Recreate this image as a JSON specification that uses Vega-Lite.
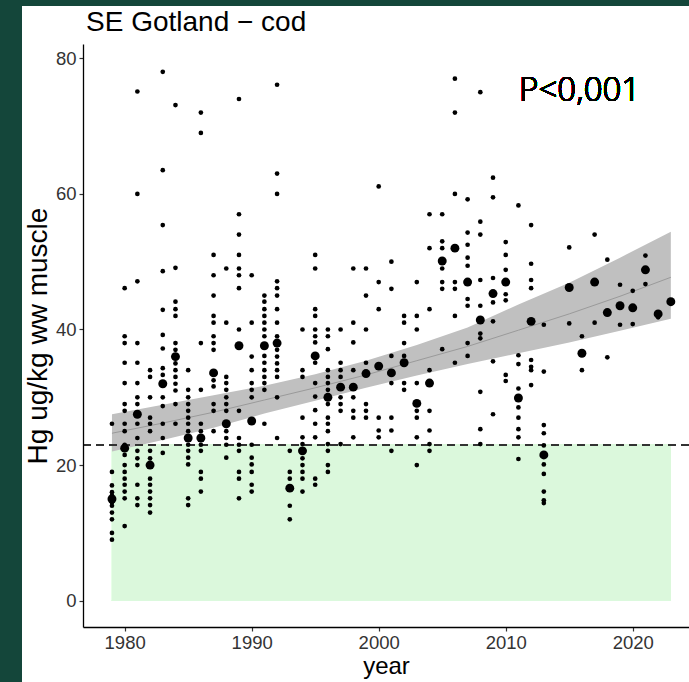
{
"$schema": "https://vega.github.io/schema/vega-lite/v6.json",
"width": 606, "height": 583,
"autosize": {"type": "none"},
"padding": {"left": 83, "top": 44, "right": 0, "bottom": 55},
"background": "#14463a",
"config": {"view": {"stroke": null}, "font": "Liberation Sans",
  "axis": {"grid": false, "domainColor": "black", "domainWidth": 1.3, "tickColor": "#333333", "tickWidth": 1.2, "tickSize": 4, "labelFontSize": 18.5, "labelColor": "#333333", "labelFont": "Liberation Sans", "titleFont": "Liberation Sans", "titleFontWeight": "normal", "titleColor": "black"}},
"title": {"text": "SE Gotland − cod", "anchor": "start", "frame": "group", "fontSize": 28, "font": "Liberation Sans", "fontWeight": "normal", "color": "black", "baseline": "alphabetic", "offset": 0, "dy": 53, "dx": 3, "zindex": 1},
"datasets": {
"fit": [
{"year":1979,"lo":22.0,"fit":24.7,"hi":27.5},
{"year":1983,"lo":23.7,"fit":26.2,"hi":28.9},
{"year":1987,"lo":25.5,"fit":27.8,"hi":30.3},
{"year":1991,"lo":27.6,"fit":29.6,"hi":31.7},
{"year":1995,"lo":29.5,"fit":31.4,"hi":33.4},
{"year":1999,"lo":31.4,"fit":33.3,"hi":35.4},
{"year":2003,"lo":33.2,"fit":35.4,"hi":37.7},
{"year":2007,"lo":34.9,"fit":37.5,"hi":40.3},
{"year":2011,"lo":36.5,"fit":39.9,"hi":43.7},
{"year":2015,"lo":38.1,"fit":42.3,"hi":46.9},
{"year":2019,"lo":39.8,"fit":44.9,"hi":50.6},
{"year":2023,"lo":41.6,"fit":47.7,"hi":54.4}
],
"pts": [
{"year":1979,"hg":26.1,"type":"ind"},{"year":1979,"hg":19,"type":"ind"},{"year":1979,"hg":17,"type":"ind"},{"year":1979,"hg":16,"type":"ind"},{"year":1979,"hg":15.5,"type":"ind"},{"year":1979,"hg":14.5,"type":"ind"},{"year":1979,"hg":14,"type":"ind"},{"year":1979,"hg":13,"type":"ind"},{"year":1979,"hg":12,"type":"ind"},{"year":1979,"hg":10,"type":"ind"},{"year":1979,"hg":9,"type":"ind"},
{"year":1980,"hg":46.1,"type":"ind"},{"year":1980,"hg":39,"type":"ind"},{"year":1980,"hg":38,"type":"ind"},{"year":1980,"hg":35.1,"type":"ind"},{"year":1980,"hg":32.1,"type":"ind"},{"year":1980,"hg":29,"type":"ind"},{"year":1980,"hg":28,"type":"ind"},{"year":1980,"hg":26.1,"type":"ind"},{"year":1980,"hg":25,"type":"ind"},{"year":1980,"hg":23,"type":"ind"},{"year":1980,"hg":21.5,"type":"ind"},{"year":1980,"hg":20,"type":"ind"},{"year":1980,"hg":19,"type":"ind"},{"year":1980,"hg":18,"type":"ind"},{"year":1980,"hg":17.1,"type":"ind"},{"year":1980,"hg":16.1,"type":"ind"},{"year":1980,"hg":15.1,"type":"ind"},{"year":1980,"hg":11,"type":"ind"},
{"year":1981,"hg":75.1,"type":"ind"},{"year":1981,"hg":60,"type":"ind"},{"year":1981,"hg":47.1,"type":"ind"},{"year":1981,"hg":38,"type":"ind"},{"year":1981,"hg":35.1,"type":"ind"},{"year":1981,"hg":32.1,"type":"ind"},{"year":1981,"hg":30,"type":"ind"},{"year":1981,"hg":29,"type":"ind"},{"year":1981,"hg":26.1,"type":"ind"},{"year":1981,"hg":24,"type":"ind"},{"year":1981,"hg":22.1,"type":"ind"},{"year":1981,"hg":21,"type":"ind"},{"year":1981,"hg":20,"type":"ind"},{"year":1981,"hg":17.1,"type":"ind"},{"year":1981,"hg":15.1,"type":"ind"},{"year":1981,"hg":14.1,"type":"ind"},
{"year":1982,"hg":34,"type":"ind"},{"year":1982,"hg":33,"type":"ind"},{"year":1982,"hg":30,"type":"ind"},{"year":1982,"hg":27,"type":"ind"},{"year":1982,"hg":26.1,"type":"ind"},{"year":1982,"hg":25,"type":"ind"},{"year":1982,"hg":22.1,"type":"ind"},{"year":1982,"hg":21,"type":"ind"},{"year":1982,"hg":18,"type":"ind"},{"year":1982,"hg":17.1,"type":"ind"},{"year":1982,"hg":16.1,"type":"ind"},{"year":1982,"hg":15.1,"type":"ind"},{"year":1982,"hg":14.1,"type":"ind"},{"year":1982,"hg":13,"type":"ind"},
{"year":1983,"hg":78,"type":"ind"},{"year":1983,"hg":63.5,"type":"ind"},{"year":1983,"hg":55.4,"type":"ind"},{"year":1983,"hg":48.6,"type":"ind"},{"year":1983,"hg":42.9,"type":"ind"},{"year":1983,"hg":39.2,"type":"ind"},{"year":1983,"hg":37.2,"type":"ind"},{"year":1983,"hg":34.3,"type":"ind"},{"year":1983,"hg":33.3,"type":"ind"},{"year":1983,"hg":30,"type":"ind"},{"year":1983,"hg":28.7,"type":"ind"},{"year":1983,"hg":26.1,"type":"ind"},{"year":1983,"hg":24,"type":"ind"},{"year":1983,"hg":21.8,"type":"ind"},
{"year":1984,"hg":73.1,"type":"ind"},{"year":1984,"hg":49.1,"type":"ind"},{"year":1984,"hg":44.1,"type":"ind"},{"year":1984,"hg":43,"type":"ind"},{"year":1984,"hg":42,"type":"ind"},{"year":1984,"hg":38,"type":"ind"},{"year":1984,"hg":37,"type":"ind"},{"year":1984,"hg":35,"type":"ind"},{"year":1984,"hg":34,"type":"ind"},{"year":1984,"hg":33,"type":"ind"},{"year":1984,"hg":32,"type":"ind"},{"year":1984,"hg":31,"type":"ind"},{"year":1984,"hg":29,"type":"ind"},{"year":1984,"hg":26.1,"type":"ind"},
{"year":1985,"hg":34,"type":"ind"},{"year":1985,"hg":31.1,"type":"ind"},{"year":1985,"hg":30,"type":"ind"},{"year":1985,"hg":29,"type":"ind"},{"year":1985,"hg":28,"type":"ind"},{"year":1985,"hg":27,"type":"ind"},{"year":1985,"hg":26.1,"type":"ind"},{"year":1985,"hg":25,"type":"ind"},{"year":1985,"hg":23,"type":"ind"},{"year":1985,"hg":22.1,"type":"ind"},{"year":1985,"hg":21.1,"type":"ind"},{"year":1985,"hg":20.1,"type":"ind"},{"year":1985,"hg":15.1,"type":"ind"},{"year":1985,"hg":14.1,"type":"ind"},
{"year":1986,"hg":72,"type":"ind"},{"year":1986,"hg":69,"type":"ind"},{"year":1986,"hg":38,"type":"ind"},{"year":1986,"hg":31.1,"type":"ind"},{"year":1986,"hg":26.1,"type":"ind"},{"year":1986,"hg":25,"type":"ind"},{"year":1986,"hg":23,"type":"ind"},{"year":1986,"hg":22.1,"type":"ind"},{"year":1986,"hg":19,"type":"ind"},{"year":1986,"hg":18,"type":"ind"},{"year":1986,"hg":16.1,"type":"ind"},
{"year":1987,"hg":51,"type":"ind"},{"year":1987,"hg":48,"type":"ind"},{"year":1987,"hg":45,"type":"ind"},{"year":1987,"hg":42,"type":"ind"},{"year":1987,"hg":41,"type":"ind"},{"year":1987,"hg":39,"type":"ind"},{"year":1987,"hg":38,"type":"ind"},{"year":1987,"hg":37,"type":"ind"},{"year":1987,"hg":32.5,"type":"ind"},{"year":1987,"hg":31.6,"type":"ind"},{"year":1987,"hg":29,"type":"ind"},{"year":1987,"hg":28,"type":"ind"},{"year":1987,"hg":25,"type":"ind"},
{"year":1988,"hg":49,"type":"ind"},{"year":1988,"hg":41,"type":"ind"},{"year":1988,"hg":33,"type":"ind"},{"year":1988,"hg":32.1,"type":"ind"},{"year":1988,"hg":31.1,"type":"ind"},{"year":1988,"hg":30,"type":"ind"},{"year":1988,"hg":29,"type":"ind"},{"year":1988,"hg":28,"type":"ind"},{"year":1988,"hg":25,"type":"ind"},{"year":1988,"hg":24,"type":"ind"},{"year":1988,"hg":23,"type":"ind"},{"year":1988,"hg":21.1,"type":"ind"},
{"year":1989,"hg":74,"type":"ind"},{"year":1989,"hg":57,"type":"ind"},{"year":1989,"hg":54,"type":"ind"},{"year":1989,"hg":51,"type":"ind"},{"year":1989,"hg":49,"type":"ind"},{"year":1989,"hg":48,"type":"ind"},{"year":1989,"hg":46.1,"type":"ind"},{"year":1989,"hg":40,"type":"ind"},{"year":1989,"hg":28,"type":"ind"},{"year":1989,"hg":24,"type":"ind"},{"year":1989,"hg":23,"type":"ind"},{"year":1989,"hg":22.1,"type":"ind"},{"year":1989,"hg":19,"type":"ind"},{"year":1989,"hg":18,"type":"ind"},{"year":1989,"hg":15.1,"type":"ind"},
{"year":1990,"hg":48,"type":"ind"},{"year":1990,"hg":41,"type":"ind"},{"year":1990,"hg":36,"type":"ind"},{"year":1990,"hg":34,"type":"ind"},{"year":1990,"hg":32.1,"type":"ind"},{"year":1990,"hg":31.1,"type":"ind"},{"year":1990,"hg":30,"type":"ind"},{"year":1990,"hg":23,"type":"ind"},{"year":1990,"hg":21.1,"type":"ind"},{"year":1990,"hg":20.1,"type":"ind"},{"year":1990,"hg":19,"type":"ind"},{"year":1990,"hg":17.1,"type":"ind"},{"year":1990,"hg":16.1,"type":"ind"},
{"year":1991,"hg":45,"type":"ind"},{"year":1991,"hg":44.1,"type":"ind"},{"year":1991,"hg":43,"type":"ind"},{"year":1991,"hg":42,"type":"ind"},{"year":1991,"hg":41,"type":"ind"},{"year":1991,"hg":40,"type":"ind"},{"year":1991,"hg":39,"type":"ind"},{"year":1991,"hg":36.1,"type":"ind"},{"year":1991,"hg":35.1,"type":"ind"},{"year":1991,"hg":34,"type":"ind"},{"year":1991,"hg":33,"type":"ind"},{"year":1991,"hg":32.1,"type":"ind"},{"year":1991,"hg":31.1,"type":"ind"},{"year":1991,"hg":26.1,"type":"ind"},
{"year":1992,"hg":76.1,"type":"ind"},{"year":1992,"hg":63,"type":"ind"},{"year":1992,"hg":60,"type":"ind"},{"year":1992,"hg":47.1,"type":"ind"},{"year":1992,"hg":46.1,"type":"ind"},{"year":1992,"hg":45,"type":"ind"},{"year":1992,"hg":43,"type":"ind"},{"year":1992,"hg":41,"type":"ind"},{"year":1992,"hg":39,"type":"ind"},{"year":1992,"hg":37,"type":"ind"},{"year":1992,"hg":36,"type":"ind"},{"year":1992,"hg":35,"type":"ind"},{"year":1992,"hg":34,"type":"ind"},{"year":1992,"hg":33,"type":"ind"},{"year":1992,"hg":30,"type":"ind"},{"year":1992,"hg":24,"type":"ind"},
{"year":1993,"hg":22.1,"type":"ind"},{"year":1993,"hg":19,"type":"ind"},{"year":1993,"hg":18,"type":"ind"},{"year":1993,"hg":14,"type":"ind"},{"year":1993,"hg":12,"type":"ind"},
{"year":1994,"hg":40,"type":"ind"},{"year":1994,"hg":34,"type":"ind"},{"year":1994,"hg":33,"type":"ind"},{"year":1994,"hg":27,"type":"ind"},{"year":1994,"hg":24.1,"type":"ind"},{"year":1994,"hg":23.1,"type":"ind"},{"year":1994,"hg":21,"type":"ind"},{"year":1994,"hg":20,"type":"ind"},{"year":1994,"hg":19,"type":"ind"},{"year":1994,"hg":18,"type":"ind"},{"year":1994,"hg":16.1,"type":"ind"},
{"year":1995,"hg":51,"type":"ind"},{"year":1995,"hg":49,"type":"ind"},{"year":1995,"hg":43,"type":"ind"},{"year":1995,"hg":42,"type":"ind"},{"year":1995,"hg":40,"type":"ind"},{"year":1995,"hg":39,"type":"ind"},{"year":1995,"hg":38.1,"type":"ind"},{"year":1995,"hg":35.1,"type":"ind"},{"year":1995,"hg":32.1,"type":"ind"},{"year":1995,"hg":30.1,"type":"ind"},{"year":1995,"hg":28.1,"type":"ind"},{"year":1995,"hg":26.1,"type":"ind"},{"year":1995,"hg":24.1,"type":"ind"},{"year":1995,"hg":18,"type":"ind"},{"year":1995,"hg":17.1,"type":"ind"},
{"year":1996,"hg":40,"type":"ind"},{"year":1996,"hg":39,"type":"ind"},{"year":1996,"hg":37.1,"type":"ind"},{"year":1996,"hg":34,"type":"ind"},{"year":1996,"hg":33,"type":"ind"},{"year":1996,"hg":32.1,"type":"ind"},{"year":1996,"hg":31.1,"type":"ind"},{"year":1996,"hg":29,"type":"ind"},{"year":1996,"hg":27,"type":"ind"},{"year":1996,"hg":26.1,"type":"ind"},{"year":1996,"hg":25,"type":"ind"},{"year":1996,"hg":23.1,"type":"ind"},{"year":1996,"hg":22.1,"type":"ind"},{"year":1996,"hg":20,"type":"ind"},{"year":1996,"hg":19,"type":"ind"},
{"year":1997,"hg":40,"type":"ind"},{"year":1997,"hg":35.1,"type":"ind"},{"year":1997,"hg":34,"type":"ind"},{"year":1997,"hg":33,"type":"ind"},{"year":1997,"hg":30,"type":"ind"},{"year":1997,"hg":29,"type":"ind"},{"year":1997,"hg":28,"type":"ind"},{"year":1997,"hg":23.1,"type":"ind"},
{"year":1998,"hg":49,"type":"ind"},{"year":1998,"hg":41,"type":"ind"},{"year":1998,"hg":38.1,"type":"ind"},{"year":1998,"hg":34,"type":"ind"},{"year":1998,"hg":30,"type":"ind"},{"year":1998,"hg":28,"type":"ind"},{"year":1998,"hg":27,"type":"ind"},{"year":1998,"hg":24.1,"type":"ind"},
{"year":1999,"hg":49,"type":"ind"},{"year":1999,"hg":45,"type":"ind"},{"year":1999,"hg":40,"type":"ind"},{"year":1999,"hg":35.1,"type":"ind"},{"year":1999,"hg":29,"type":"ind"},{"year":1999,"hg":28,"type":"ind"},{"year":1999,"hg":27,"type":"ind"},
{"year":2000,"hg":61.1,"type":"ind"},{"year":2000,"hg":47,"type":"ind"},{"year":2000,"hg":43,"type":"ind"},{"year":2000,"hg":27,"type":"ind"},{"year":2000,"hg":25.1,"type":"ind"},{"year":2000,"hg":24.1,"type":"ind"},
{"year":2001,"hg":50,"type":"ind"},{"year":2001,"hg":46,"type":"ind"},{"year":2001,"hg":36.1,"type":"ind"},{"year":2001,"hg":32.1,"type":"ind"},{"year":2001,"hg":27,"type":"ind"},{"year":2001,"hg":25.1,"type":"ind"},{"year":2001,"hg":22.1,"type":"ind"},
{"year":2002,"hg":42,"type":"ind"},{"year":2002,"hg":41,"type":"ind"},{"year":2002,"hg":38,"type":"ind"},{"year":2002,"hg":36.1,"type":"ind"},{"year":2002,"hg":32.1,"type":"ind"},{"year":2002,"hg":31.1,"type":"ind"},
{"year":2003,"hg":47,"type":"ind"},{"year":2003,"hg":42,"type":"ind"},{"year":2003,"hg":40,"type":"ind"},{"year":2003,"hg":32.1,"type":"ind"},{"year":2003,"hg":28,"type":"ind"},{"year":2003,"hg":27,"type":"ind"},{"year":2003,"hg":24.1,"type":"ind"},{"year":2003,"hg":20,"type":"ind"},
{"year":2004,"hg":57,"type":"ind"},{"year":2004,"hg":52,"type":"ind"},{"year":2004,"hg":43,"type":"ind"},{"year":2004,"hg":34,"type":"ind"},{"year":2004,"hg":28,"type":"ind"},{"year":2004,"hg":25.1,"type":"ind"},{"year":2004,"hg":23.1,"type":"ind"},{"year":2004,"hg":22.1,"type":"ind"},
{"year":2005,"hg":57,"type":"ind"},{"year":2005,"hg":53,"type":"ind"},{"year":2005,"hg":52,"type":"ind"},{"year":2005,"hg":49,"type":"ind"},{"year":2005,"hg":47,"type":"ind"},{"year":2005,"hg":46,"type":"ind"},{"year":2005,"hg":37.1,"type":"ind"},
{"year":2006,"hg":77,"type":"ind"},{"year":2006,"hg":72,"type":"ind"},{"year":2006,"hg":60,"type":"ind"},{"year":2006,"hg":47,"type":"ind"},{"year":2006,"hg":46,"type":"ind"},{"year":2006,"hg":42,"type":"ind"},{"year":2006,"hg":35.1,"type":"ind"},
{"year":2007,"hg":59.2,"type":"ind"},{"year":2007,"hg":54.3,"type":"ind"},{"year":2007,"hg":52.5,"type":"ind"},{"year":2007,"hg":50.6,"type":"ind"},{"year":2007,"hg":49.4,"type":"ind"},{"year":2007,"hg":44.5,"type":"ind"},{"year":2007,"hg":43.5,"type":"ind"},{"year":2007,"hg":38,"type":"ind"},{"year":2007,"hg":36.1,"type":"ind"},
{"year":2008,"hg":75,"type":"ind"},{"year":2008,"hg":55.9,"type":"ind"},{"year":2008,"hg":54,"type":"ind"},{"year":2008,"hg":47.3,"type":"ind"},{"year":2008,"hg":43.5,"type":"ind"},{"year":2008,"hg":39.4,"type":"ind"},{"year":2008,"hg":38.7,"type":"ind"},{"year":2008,"hg":30.8,"type":"ind"},{"year":2008,"hg":25.3,"type":"ind"},{"year":2008,"hg":23.1,"type":"ind"},
{"year":2009,"hg":62.4,"type":"ind"},{"year":2009,"hg":59.5,"type":"ind"},{"year":2009,"hg":47.6,"type":"ind"},{"year":2009,"hg":44,"type":"ind"},{"year":2009,"hg":41.2,"type":"ind"},{"year":2009,"hg":35.3,"type":"ind"},{"year":2009,"hg":27.5,"type":"ind"},
{"year":2010,"hg":52.9,"type":"ind"},{"year":2010,"hg":51,"type":"ind"},{"year":2010,"hg":48.8,"type":"ind"},{"year":2010,"hg":45.2,"type":"ind"},{"year":2010,"hg":44.3,"type":"ind"},{"year":2010,"hg":33.3,"type":"ind"},{"year":2010,"hg":32.4,"type":"ind"},
{"year":2011,"hg":58.3,"type":"ind"},{"year":2011,"hg":36.2,"type":"ind"},{"year":2011,"hg":34.9,"type":"ind"},{"year":2011,"hg":31.3,"type":"ind"},{"year":2011,"hg":28.5,"type":"ind"},{"year":2011,"hg":27,"type":"ind"},{"year":2011,"hg":25.3,"type":"ind"},{"year":2011,"hg":24.1,"type":"ind"},{"year":2011,"hg":20.9,"type":"ind"},
{"year":2012,"hg":55.4,"type":"ind"},{"year":2012,"hg":49.7,"type":"ind"},{"year":2012,"hg":47.3,"type":"ind"},{"year":2012,"hg":46.1,"type":"ind"},{"year":2012,"hg":41,"type":"ind"},{"year":2012,"hg":35.5,"type":"ind"},{"year":2012,"hg":34.5,"type":"ind"},{"year":2012,"hg":34,"type":"ind"},{"year":2012,"hg":31.8,"type":"ind"},
{"year":2013,"hg":40.7,"type":"ind"},{"year":2013,"hg":33.8,"type":"ind"},{"year":2013,"hg":25.9,"type":"ind"},{"year":2013,"hg":24.7,"type":"ind"},{"year":2013,"hg":22.9,"type":"ind"},{"year":2013,"hg":20.1,"type":"ind"},{"year":2013,"hg":18.7,"type":"ind"},{"year":2013,"hg":16.1,"type":"ind"},{"year":2013,"hg":14.8,"type":"ind"},{"year":2013,"hg":14.4,"type":"ind"},
{"year":2015,"hg":52.1,"type":"ind"},{"year":2015,"hg":40.9,"type":"ind"},
{"year":2016,"hg":39,"type":"ind"},{"year":2016,"hg":34,"type":"ind"},
{"year":2017,"hg":54,"type":"ind"},{"year":2017,"hg":41,"type":"ind"},
{"year":2018,"hg":50.3,"type":"ind"},{"year":2018,"hg":35.9,"type":"ind"},
{"year":2019,"hg":46.6,"type":"ind"},{"year":2019,"hg":40.7,"type":"ind"},
{"year":2020,"hg":45.7,"type":"ind"},{"year":2020,"hg":40.8,"type":"ind"},
{"year":2021,"hg":50.9,"type":"ind"},{"year":2021,"hg":46.7,"type":"ind"},
{"year":2022,"hg":41.8,"type":"ind"},
{"year":1979,"hg":15,"type":"mean"},{"year":1980,"hg":22.5,"type":"mean"},{"year":1981,"hg":27.5,"type":"mean"},{"year":1982,"hg":20,"type":"mean"},{"year":1983,"hg":32,"type":"mean"},{"year":1984,"hg":36,"type":"mean"},{"year":1985,"hg":24,"type":"mean"},{"year":1986,"hg":24,"type":"mean"},{"year":1987,"hg":33.6,"type":"mean"},{"year":1988,"hg":26.1,"type":"mean"},{"year":1989,"hg":37.6,"type":"mean"},{"year":1990,"hg":26.5,"type":"mean"},{"year":1991,"hg":37.6,"type":"mean"},{"year":1992,"hg":38,"type":"mean"},{"year":1993,"hg":16.6,"type":"mean"},{"year":1994,"hg":22.1,"type":"mean"},{"year":1995,"hg":36.1,"type":"mean"},{"year":1996,"hg":30,"type":"mean"},{"year":1997,"hg":31.5,"type":"mean"},{"year":1998,"hg":31.5,"type":"mean"},{"year":1999,"hg":33.5,"type":"mean"},{"year":2000,"hg":34.6,"type":"mean"},{"year":2001,"hg":33.6,"type":"mean"},{"year":2002,"hg":35.1,"type":"mean"},{"year":2003,"hg":29.1,"type":"mean"},{"year":2004,"hg":32.1,"type":"mean"},{"year":2005,"hg":50.1,"type":"mean"},{"year":2006,"hg":52,"type":"mean"},{"year":2007,"hg":47,"type":"mean"},{"year":2008,"hg":41.4,"type":"mean"},{"year":2009,"hg":45.3,"type":"mean"},{"year":2010,"hg":47,"type":"mean"},{"year":2011,"hg":29.9,"type":"mean"},{"year":2012,"hg":41.2,"type":"mean"},{"year":2013,"hg":21.5,"type":"mean"},{"year":2015,"hg":46.2,"type":"mean"},{"year":2016,"hg":36.5,"type":"mean"},{"year":2017,"hg":47,"type":"mean"},{"year":2018,"hg":42.5,"type":"mean"},{"year":2019,"hg":43.5,"type":"mean"},{"year":2020,"hg":43.2,"type":"mean"},{"year":2021,"hg":48.8,"type":"mean"},{"year":2022,"hg":42.3,"type":"mean"},{"year":2023,"hg":44.1,"type":"mean"}
]
},
"data": {"name": "pts"},
"encoding": {
  "x": {"field": "year", "type": "quantitative", "scale": {"domain": [1976.72, 2024.43], "nice": false, "zero": false},
        "axis": {"values": [1980, 1990, 2000, 2010, 2020], "format": "d", "title": "year", "titleFontSize": 24, "labelPadding": 2, "titlePadding": 3, "zindex": 1}},
  "y": {"field": "hg", "type": "quantitative", "scale": {"domain": [-3.88, 82.11], "nice": false, "zero": false},
        "axis": {"values": [0, 20, 40, 60, 80], "title": "Hg ug/kg ww muscle", "titleFontSize": 28, "labelPadding": 3, "titlePadding": 3, "zindex": 1}}
},
"layer": [
  {"mark": {"type": "rect", "color": "white"}, "encoding": {"x": {"datum": 1971.92}, "x2": {"datum": 2035}, "y": {"datum": 87.71}, "y2": {"datum": -11.99}}},
  {"mark": {"type": "rect", "color": "#dbf8dc"}, "encoding": {"x": {"datum": 1979}, "x2": {"datum": 2023}, "y": {"datum": 0}, "y2": {"datum": 23}}},
  {"data": {"name": "fit"}, "mark": {"type": "area", "color": "#c0c0c0", "opacity": 1}, "encoding": {"y": {"field": "lo"}, "y2": {"field": "hi"}}},
  {"data": {"name": "fit"}, "mark": {"type": "line", "color": "#9a9a9a", "strokeWidth": 1}, "encoding": {"y": {"field": "fit"}}},
  {"mark": {"type": "rule", "strokeDash": [8, 5], "color": "#333333", "strokeWidth": 1.6}, "encoding": {"y": {"datum": 23}, "x": null}},
  {"mark": {"type": "circle", "color": "black", "opacity": 1}, "encoding": {"size": {"field": "type", "type": "nominal", "scale": {"domain": ["ind", "mean"], "range": [22, 80]}, "legend": null}}},
  {"mark": {"type": "text", "font": "Noto Sans", "fontSize": 33, "fontWeight": 300, "align": "left", "baseline": "alphabetic", "fill": "black", "text": "P<0,001"}, "encoding": {"x": {"datum": 2011.05}, "y": {"datum": 73.7}}}
]
}
